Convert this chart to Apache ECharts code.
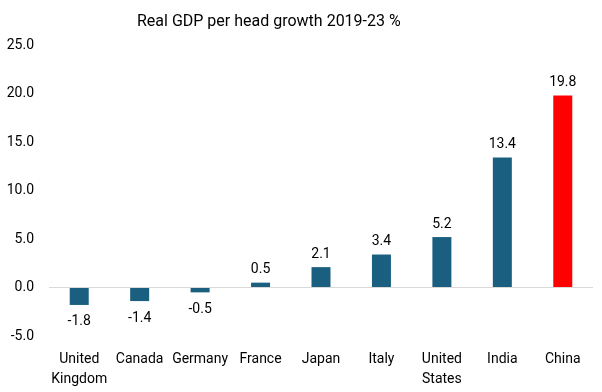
<!DOCTYPE html>
<html><head><meta charset="utf-8">
<script src="https://cdn.jsdelivr.net/npm/echarts@6/dist/echarts.min.js"></script>
<style>html,body{margin:0;padding:0;background:#fff}#c{width:602px;height:392px}</style>
</head><body><div id="c"></div>
<script>
const categories = ["United\nKingdom","Canada","Germany","France","Japan","Italy","United\nStates","India","China"];
const values = [-1.8,-1.4,-0.5,0.5,2.1,3.4,5.2,13.4,19.8];
const barColors = ["#1a5f80","#1a5f80","#1a5f80","#1a5f80","#1a5f80","#1a5f80","#1a5f80","#1a5f80","#ff0000"];
const yTicks = {min:-5, max:25, interval:5};
const FONT = "Roboto";
const chart = echarts.init(document.getElementById('c'), null, {renderer:'canvas'});
chart.setOption({
  animation:false,
  backgroundColor:'#fff',
  title:{text:"Real GDP per head growth 2019-23 %", left:132, top:9,
    textStyle:{fontFamily:FONT, fontSize:16, fontWeight:'normal', color:'#000'}},
  grid:{left:49, right:9, top:45, bottom:56},
  xAxis:{type:'category', data:categories,
    axisLine:{show:false, onZero:false}, axisTick:{show:false},
    axisLabel:{fontFamily:FONT, fontSize:14, color:'#000', margin:13, lineHeight:20, interval:0}},
  yAxis:{type:'value', min:yTicks.min, max:yTicks.max, interval:yTicks.interval,
    splitLine:{show:false}, axisLine:{show:false}, axisTick:{show:false},
    axisLabel:{fontFamily:FONT, fontSize:14, color:'#000', margin:15,
      formatter:v=>v.toFixed(1)}},
  series:[{type:'bar', barWidth:19,
    data:values.map((v,i)=>({value:v, itemStyle:{color:barColors[i]},
      label: v<0 ? {position:'bottom', distance:10} : {position:'top', distance:6}})),
    label:{show:true, fontFamily:FONT, fontSize:14, color:'#000',
      formatter:p=>p.value.toFixed(1)},
    markLine:{silent:true, symbol:'none', label:{show:false},
      lineStyle:{color:'#d9d9d9', type:'solid', width:1},
      data:[{yAxis:0}]},
    z:3
  }]
});
</script></body></html>
